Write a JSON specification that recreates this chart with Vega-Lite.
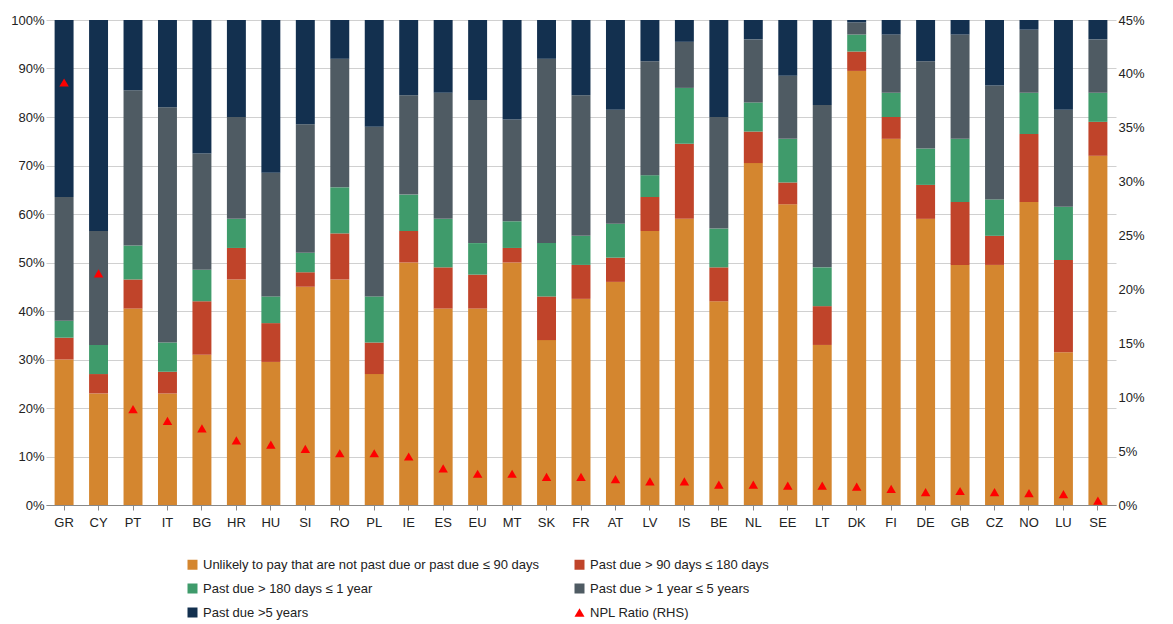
{
  "$schema": "https://vega.github.io/schema/vega-lite/v6.json",
  "width": 1070,
  "height": 485,
  "padding": {"top": 14, "left": 10, "right": 10, "bottom": 5},
  "background": "white",
  "config": {
    "view": {"stroke": null},
    "axis": {"labelFont": "Liberation Sans", "labelFontSize": 13, "labelColor": "#222", "domainColor": "#888", "tickColor": "#888"},
    "legend": {"labelFont": "Liberation Sans", "labelFontSize": 13, "labelColor": "#222"}
  },
  "data": {
    "values": [
      {"c": "GR", "a": 30, "b": 4.5, "g": 3.5, "d": 25.5, "e": 36.5, "npl": 0.392},
      {"c": "CY", "a": 23, "b": 4, "g": 6, "d": 23.5, "e": 43.5, "npl": 0.215},
      {"c": "PT", "a": 40.5, "b": 6, "g": 7, "d": 32, "e": 14.5, "npl": 0.089},
      {"c": "IT", "a": 23, "b": 4.5, "g": 6, "d": 48.5, "e": 18, "npl": 0.078},
      {"c": "BG", "a": 31, "b": 11, "g": 6.5, "d": 24, "e": 27.5, "npl": 0.071},
      {"c": "HR", "a": 46.5, "b": 6.5, "g": 6, "d": 21, "e": 20, "npl": 0.06},
      {"c": "HU", "a": 29.5, "b": 8, "g": 5.5, "d": 25.5, "e": 31.5, "npl": 0.056},
      {"c": "SI", "a": 45, "b": 3, "g": 4, "d": 26.5, "e": 21.5, "npl": 0.052},
      {"c": "RO", "a": 46.5, "b": 9.5, "g": 9.5, "d": 26.5, "e": 8, "npl": 0.048},
      {"c": "PL", "a": 27, "b": 6.5, "g": 9.5, "d": 35, "e": 22, "npl": 0.048},
      {"c": "IE", "a": 50, "b": 6.5, "g": 7.5, "d": 20.5, "e": 15.5, "npl": 0.045},
      {"c": "ES", "a": 40.5, "b": 8.5, "g": 10, "d": 26, "e": 15, "npl": 0.034},
      {"c": "EU", "a": 40.5, "b": 7, "g": 6.5, "d": 29.5, "e": 16.5, "npl": 0.029},
      {"c": "MT", "a": 50, "b": 3, "g": 5.5, "d": 21, "e": 20.5, "npl": 0.029},
      {"c": "SK", "a": 34, "b": 9, "g": 11, "d": 38, "e": 8, "npl": 0.026},
      {"c": "FR", "a": 42.5, "b": 7, "g": 6, "d": 29, "e": 15.5, "npl": 0.026},
      {"c": "AT", "a": 46, "b": 5, "g": 7, "d": 23.5, "e": 18.5, "npl": 0.024},
      {"c": "LV", "a": 56.5, "b": 7, "g": 4.5, "d": 23.5, "e": 8.5, "npl": 0.022},
      {"c": "IS", "a": 59, "b": 15.5, "g": 11.5, "d": 9.5, "e": 4.5, "npl": 0.022},
      {"c": "BE", "a": 42, "b": 7, "g": 8, "d": 23, "e": 20, "npl": 0.019},
      {"c": "NL", "a": 70.5, "b": 6.5, "g": 6, "d": 13, "e": 4, "npl": 0.019},
      {"c": "EE", "a": 62, "b": 4.5, "g": 9, "d": 13, "e": 11.5, "npl": 0.018},
      {"c": "LT", "a": 33, "b": 8, "g": 8, "d": 33.5, "e": 17.5, "npl": 0.018},
      {"c": "DK", "a": 89.5, "b": 4, "g": 3.5, "d": 2.5, "e": 0.5, "npl": 0.017},
      {"c": "FI", "a": 75.5, "b": 4.5, "g": 5, "d": 12, "e": 3, "npl": 0.015},
      {"c": "DE", "a": 59, "b": 7, "g": 7.5, "d": 18, "e": 8.5, "npl": 0.012},
      {"c": "GB", "a": 49.5, "b": 13, "g": 13, "d": 21.5, "e": 3, "npl": 0.013},
      {"c": "CZ", "a": 49.5, "b": 6, "g": 7.5, "d": 23.5, "e": 13.5, "npl": 0.012},
      {"c": "NO", "a": 62.5, "b": 14, "g": 8.5, "d": 13, "e": 2, "npl": 0.011},
      {"c": "LU", "a": 31.5, "b": 19, "g": 11, "d": 20, "e": 18.5, "npl": 0.01},
      {"c": "SE", "a": 72, "b": 7, "g": 6, "d": 11, "e": 4, "npl": 0.004}
    ]
  },
  "encoding": {
    "x": {"field": "c", "type": "nominal", "sort": null, "title": null,
      "scale": {"paddingInner": 0.45, "paddingOuter": 0.25},
      "axis": {"labelAngle": 0, "ticks": true, "labelPadding": 6}}
  },
  "layer": [
    {
      "transform": [
        {"fold": ["a", "b", "g", "d", "e"], "as": ["k", "v"]},
        {"lookup": "k", "from": {"data": {"values": [
          {"k": "a", "s": "Unlikely to pay  that are not past due or past due ≤ 90 days", "o": 1},
          {"k": "b", "s": "Past due > 90 days ≤ 180 days", "o": 2},
          {"k": "g", "s": "Past due > 180 days ≤ 1 year", "o": 3},
          {"k": "d", "s": "Past due > 1 year ≤ 5 years", "o": 4},
          {"k": "e", "s": "Past due >5 years", "o": 5}
        ]}, "key": "k", "fields": ["s", "o"]}}
      ],
      "mark": {"type": "bar"},
      "encoding": {
        "y": {"field": "v", "type": "quantitative", "stack": "normalize", "title": null,
          "axis": {"format": ".0%", "values": [0, 0.1, 0.2, 0.3, 0.4, 0.5, 0.6, 0.7, 0.8, 0.9, 1], "grid": true, "gridColor": "#d0d0d0", "domain": false, "ticks": false}},
        "order": {"field": "o", "type": "quantitative"},
        "color": {"field": "s", "type": "nominal", "title": null,
          "scale": {
            "domain": ["Unlikely to pay  that are not past due or past due ≤ 90 days", "Past due > 90 days ≤ 180 days", "Past due > 180 days ≤ 1 year", "Past due > 1 year ≤ 5 years", "Past due >5 years", "NPL Ratio (RHS)"],
            "range": ["#D4862F", "#C0442A", "#3F9B6B", "#4F5B63", "#13304F", "#FF0000"]},
          "legend": {"orient": "none", "direction": "horizontal", "legendX": 140, "legendY": 538, "columns": 2, "columnPadding": 30, "rowPadding": 10, "labelLimit": 500, "symbolSize": 100,
            "encode": {"symbols": {"update": {"shape": {"signal": "datum.value == 'NPL Ratio (RHS)' ? 'triangle-up' : 'square'"}}}}}}
      }
    },
    {
      "transform": [{"calculate": "'NPL Ratio (RHS)'", "as": "s"}],
      "mark": {"type": "point", "shape": "triangle-up", "filled": true, "size": 90, "opacity": 1},
      "encoding": {
        "y": {"field": "npl", "type": "quantitative", "title": null,
          "scale": {"domain": [0, 0.45]},
          "axis": {"orient": "right", "format": ".0%", "values": [0, 0.05, 0.1, 0.15, 0.2, 0.25, 0.3, 0.35, 0.4, 0.45], "grid": false, "domain": false, "ticks": false}},
        "color": {"field": "s", "type": "nominal"}
      }
    }
  ],
  "resolve": {"scale": {"y": "independent"}}
}
